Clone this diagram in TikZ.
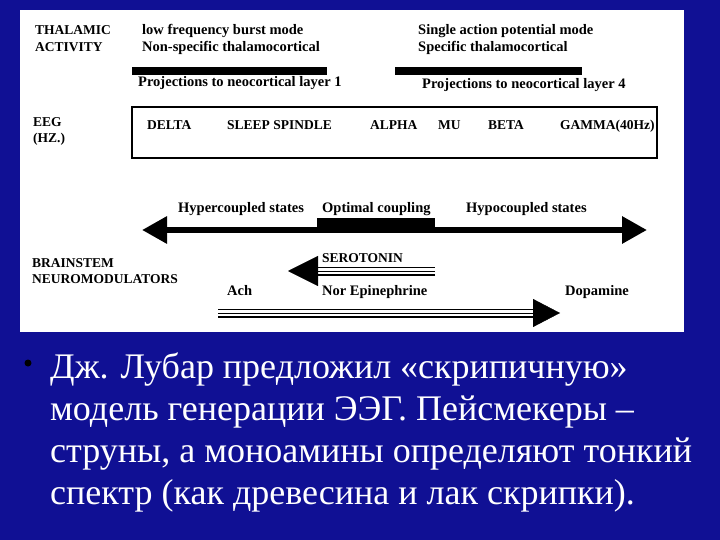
\documentclass[tikz,border=0pt]{standalone}
\usepackage{fontspec}
\setmainfont{Liberation Serif}
\usetikzlibrary{arrows.meta,positioning}
\definecolor{slideblue}{RGB}{16,16,148}

\begin{document}
\begin{tikzpicture}[x=1pt,y=-1pt,
    every node/.style={inner sep=0pt,anchor=base west},
    lbl/.style={font=\bfseries\fontsize{14.5}{16}\selectfont},
    caps/.style={font=\bfseries\fontsize{13.5}{16}\selectfont},
    slide/.style={text=white,font=\fontsize{36}{42}\selectfont},
    coupling/.style={line width=6pt,
      {Triangle[length=25pt,width=26pt]}-{Triangle[length=25pt,width=26pt]}},
    rail/.style={double,double distance=6pt,line width=1.5pt}]

\useasboundingbox (0,0) rectangle (720,540);
\fill[slideblue] (0,0) rectangle (720,540);
\fill[white] (20,10) rectangle (684,332);

% thalamic activity
\node[caps] (thal) at (35,35) {THALAMIC};
\node[caps] (act) at (35,52) {ACTIVITY};
\node[lbl] (burst) at (142,35) {low frequency burst mode};
\node[lbl] (nonspec) at (142,52) {Non-specific thalamocortical};
\node[lbl] (single) at (418,35) {Single action potential mode};
\node[lbl] (spec) at (418,52) {Specific thalamocortical};
\fill (132,67) rectangle (327,75);
\fill (395,67) rectangle (582,75);
\node[lbl] (proj1) at (138,87) {Projections to neocortical layer 1};
\node[lbl] (proj4) at (422,89) {Projections to neocortical layer 4};

% eeg bands
\node[caps] (eeg) at (33,127) {EEG};
\node[caps] (hz) at (33,143) {(HZ.)};
\draw[line width=2pt] (132,107) rectangle (657,158);
\node[caps] (delta) at (147,130) {DELTA};
\node[caps] (spindle) at (227,130) {SLEEP SPINDLE};
\node[caps] (alpha) at (370,130) {ALPHA};
\node[caps] (mu) at (438,130) {MU};
\node[caps] (beta) at (488,130) {BETA};
\node[caps] (gamma) at (560,130) {GAMMA(40Hz)};

% coupling
\node[lbl] (hyper) at (178,212) {Hypercoupled states};
\node[lbl] (optimal) at (322,212) {Optimal coupling};
\node[lbl] (hypo) at (466,212) {Hypocoupled states};
\coordinate (cplL) at (142,230);
\coordinate (cplR) at (647,230);
\draw[coupling] (cplL) -- (cplR);
\fill (317,218) rectangle (435,233);

% neuromodulators
\node[caps] (brain) at (32,267) {BRAINSTEM};
\node[caps] (neuro) at (32,283) {NEUROMODULATORS};
\node[caps] (sero) at (322,262) {SEROTONIN};
\coordinate (serB) at (435,271);
\coordinate (serA) at (318,271);
\coordinate (serTip) at (288,271);
\draw[rail] (serB) -- (serA);
\draw[-{Triangle[length=30pt,width=30pt]}] (serB) -- (serTip);

\node[lbl] (ach) at (227,295) {Ach};
\node[lbl] (nor) at (322,295) {Nor Epinephrine};
\node[lbl] (dopa) at (565,295) {Dopamine};
\coordinate (dopA) at (218,313);
\coordinate (dopB) at (533,313);
\coordinate (dopTip) at (560,313);
\draw[rail] (dopA) -- (dopB);
\draw[-{Triangle[length=27pt,width=28pt]}] (dopA) -- (dopTip);

% bullet text
\node[circle,fill=black,anchor=center,minimum size=7pt] (dot) at (28,363) {};
\foreach \txt [count=\i] in {{Дж. Лубар предложил «скрипичную»},
    {модель генерации ЭЭГ. Пейсмекеры –},
    {струны, а моноамины определяют тонкий},
    {спектр (как древесина и лак скрипки).}}
  \node[slide] (line\i) at (50,{378+42.3*(\i-1)}) {\txt};

\end{tikzpicture}
\end{document}
